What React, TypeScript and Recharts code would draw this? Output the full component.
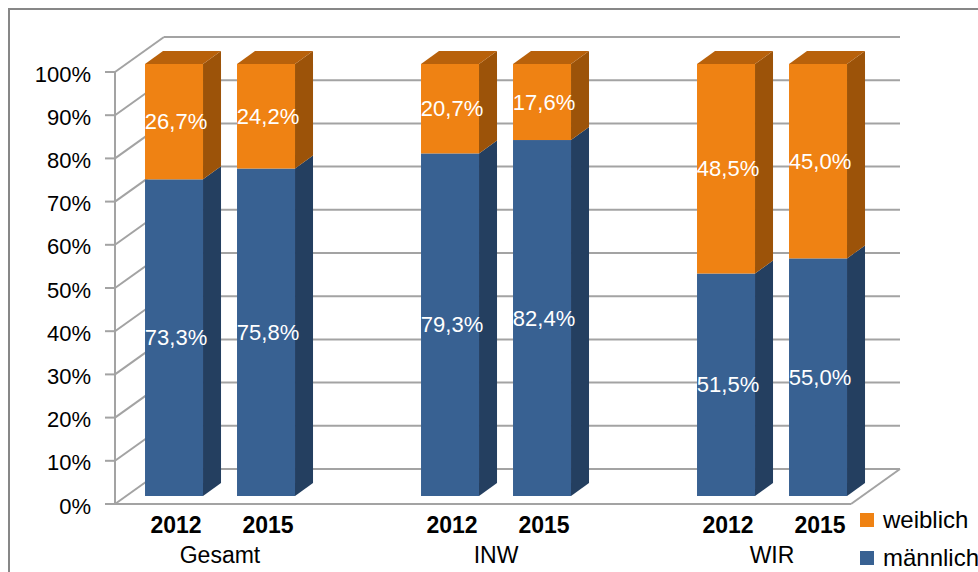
import { Bar, BarChart, CartesianGrid, LabelList, XAxis, YAxis } from "recharts";

const years = ["2012", "2015", "", "2012", "2015", "", "2012", "2015"];
const groups = ["Gesamt", "", "", "INW", "", "", "WIR", ""];
const maennlich = [73.3, 75.8, null, 79.3, 82.4, null, 51.5, 55.0];
const weiblich = [26.7, 24.2, null, 20.7, 17.6, null, 48.5, 45.0];
const yTicks = [0, 10, 20, 30, 40, 50, 60, 70, 80, 90, 100];

const seriesNames = { weiblich: "weiblich", maennlich: "männlich" };

const data = years.map((year, i) => ({
	year,
	group: groups[i],
	maennlich: maennlich[i],
	weiblich: weiblich[i],
}));

const W = 978;
const H = 572;
const Y_AXIS_W = 100;
const X_AXIS_H = 60;
const MARGIN = { top: 64, right: 114, bottom: 76 - X_AXIS_H, left: 128 - Y_AXIS_W };
const PLOT_LEFT = MARGIN.left + Y_AXIS_W;
const PLOT_TOP = MARGIN.top;
const PLOT_BOTTOM = H - MARGIN.bottom - X_AXIS_H;
const SLOT = (W - PLOT_LEFT - MARGIN.right) / years.length;

// 3d offsets relative to the bar front plane
const FRONT = { dx: -13, dy: 8 };
const BACK = { dx: 36, dy: -27 };
const DEPTH = { dx: 18, dy: 13 };

const FONT = "'Liberation Sans', Arial, sans-serif";
const GRID = "#a3a3a3";

const COLORS = {
	blue: "#386192",
	blueSide: "#243f60",
	blueTop: "#2d4f78",
	orange: "#ef8213",
	orangeSide: "#9c5309",
	orangeTop: "#b8610b",
};

function Box3D(props: any) {
	const { x, y, width, height, front, side, top, showTop } = props;
	if (!height || height <= 0) return null;
	const r = x + width;
	return (
		<g>
			<polygon
				points={`${r},${y} ${r + DEPTH.dx},${y - DEPTH.dy} ${r + DEPTH.dx},${y + height - DEPTH.dy} ${r},${y + height}`}
				fill={side}
			/>
			{showTop && (
				<polygon
					points={`${x},${y} ${x + DEPTH.dx},${y - DEPTH.dy} ${r + DEPTH.dx},${y - DEPTH.dy} ${r},${y}`}
					fill={top}
				/>
			)}
			<rect x={x} y={y} width={width} height={height} fill={front} />
		</g>
	);
}

function gridLine(props: any) {
	const { x1, x2, y1 } = props;
	const isBottom = Math.abs(y1 - PLOT_BOTTOM) < 0.5;
	const isTop = Math.abs(y1 - PLOT_TOP) < 0.5;
	return (
		<g key={`h-${y1}`} stroke={GRID} strokeWidth={2} fill="none">
			<line
				x1={x1 + BACK.dx}
				y1={y1 + BACK.dy}
				x2={x2 + BACK.dx}
				y2={y1 + BACK.dy}
			/>
			<line
				x1={x1 + FRONT.dx}
				y1={y1 + FRONT.dy}
				x2={x1 + BACK.dx}
				y2={y1 + BACK.dy}
			/>
			{isTop && (
				<line
					x1={x1 + FRONT.dx}
					y1={y1 + FRONT.dy}
					x2={x1 + FRONT.dx}
					y2={PLOT_BOTTOM + FRONT.dy}
				/>
			)}
			{isBottom && (
				<>
					<line
						x1={x1 + FRONT.dx}
						y1={y1 + FRONT.dy}
						x2={x2 + FRONT.dx}
						y2={y1 + FRONT.dy}
					/>
					<line
						x1={x2 + FRONT.dx}
						y1={y1 + FRONT.dy}
						x2={x2 + BACK.dx}
						y2={y1 + BACK.dy}
					/>
				</>
			)}
		</g>
	);
}

function YTick(props: any) {
	const { y, payload } = props;
	const fy = y + FRONT.dy;
	const fx = PLOT_LEFT + FRONT.dx;
	return (
		<g>
			<line x1={fx - 10} y1={fy} x2={fx} y2={fy} stroke={GRID} strokeWidth={2} />
			<text
				x={fx - 24}
				y={fy + 2}
				textAnchor="end"
				dominantBaseline="central"
				fontFamily={FONT}
				fontSize={22}
				fill="#000"
			>
				{`${payload.value}%`}
			</text>
		</g>
	);
}

function XTick(props: any) {
	const { x, payload, index } = props;
	const group = groups[index];
	return (
		<g fontFamily={FONT} fill="#000">
			<text x={x + 2} y={533} textAnchor="middle" fontSize={23} fontWeight="bold">
				{payload.value}
			</text>
			{group && (
				<text x={x + SLOT / 2} y={563} textAnchor="middle" fontSize={23}>
					{group}
				</text>
			)}
		</g>
	);
}

function valueLabel(props: any) {
	const { x, y, width, height, value } = props;
	if (value == null) return null;
	return (
		<text
			x={x + width / 2 + 2}
			y={y + height / 2}
			textAnchor="middle"
			dominantBaseline="central"
			fontFamily={FONT}
			fontSize={22}
			fill="#fff"
		>
			{`${Number(value).toFixed(1).replace(".", ",")}%`}
		</text>
	);
}

export default function App() {
	return (
		<div
			style={{
				position: "absolute",
				left: 0,
				top: 0,
				width: W,
				height: H,
				overflow: "hidden",
				background: "#fff",
			}}
		>
			<div
				style={{
					position: "absolute",
					left: 8,
					top: 8,
					width: 1200,
					height: 800,
					border: "2px solid #878787",
				}}
			/>
			<div style={{ position: "absolute", left: 0, top: 0 }}>
				<BarChart
					width={W}
					height={H}
					data={data}
					margin={MARGIN}
					barCategoryGap="18.5%"
				>
					<CartesianGrid horizontal={gridLine} vertical={false} />
					<XAxis
						dataKey="year"
						axisLine={false}
						tickLine={false}
						tick={<XTick />}
						interval={0}
						height={X_AXIS_H}
					/>
					<YAxis
						domain={[0, 100]}
						ticks={yTicks}
						interval={0}
						axisLine={false}
						tickLine={false}
						tick={<YTick />}
						width={Y_AXIS_W}
					/>
					<Bar
						dataKey="maennlich"
						stackId="a"
						name={seriesNames.maennlich}
						isAnimationActive={false}
						shape={(p: any) => (
							<Box3D
								{...p}
								front={COLORS.blue}
								side={COLORS.blueSide}
								top={COLORS.blueTop}
							/>
						)}
					>
						<LabelList dataKey="maennlich" content={valueLabel} />
					</Bar>
					<Bar
						dataKey="weiblich"
						stackId="a"
						name={seriesNames.weiblich}
						isAnimationActive={false}
						shape={(p: any) => (
							<Box3D
								{...p}
								front={COLORS.orange}
								side={COLORS.orangeSide}
								top={COLORS.orangeTop}
								showTop
							/>
						)}
					>
						<LabelList dataKey="weiblich" content={valueLabel} />
					</Bar>
				</BarChart>
			</div>
			<div
				style={{
					position: "absolute",
					left: 860,
					top: 501,
					fontFamily: FONT,
					fontSize: 24,
					lineHeight: "38px",
					whiteSpace: "nowrap",
				}}
			>
				{[
					{ name: seriesNames.weiblich, color: COLORS.orange },
					{ name: seriesNames.maennlich, color: COLORS.blue },
				].map((s) => (
					<div key={s.name} style={{ display: "flex", alignItems: "center" }}>
						<span
							style={{
								display: "inline-block",
								width: 14,
								height: 14,
								background: s.color,
								marginRight: 9,
							}}
						/>
						{s.name}
					</div>
				))}
			</div>
		</div>
	);
}
